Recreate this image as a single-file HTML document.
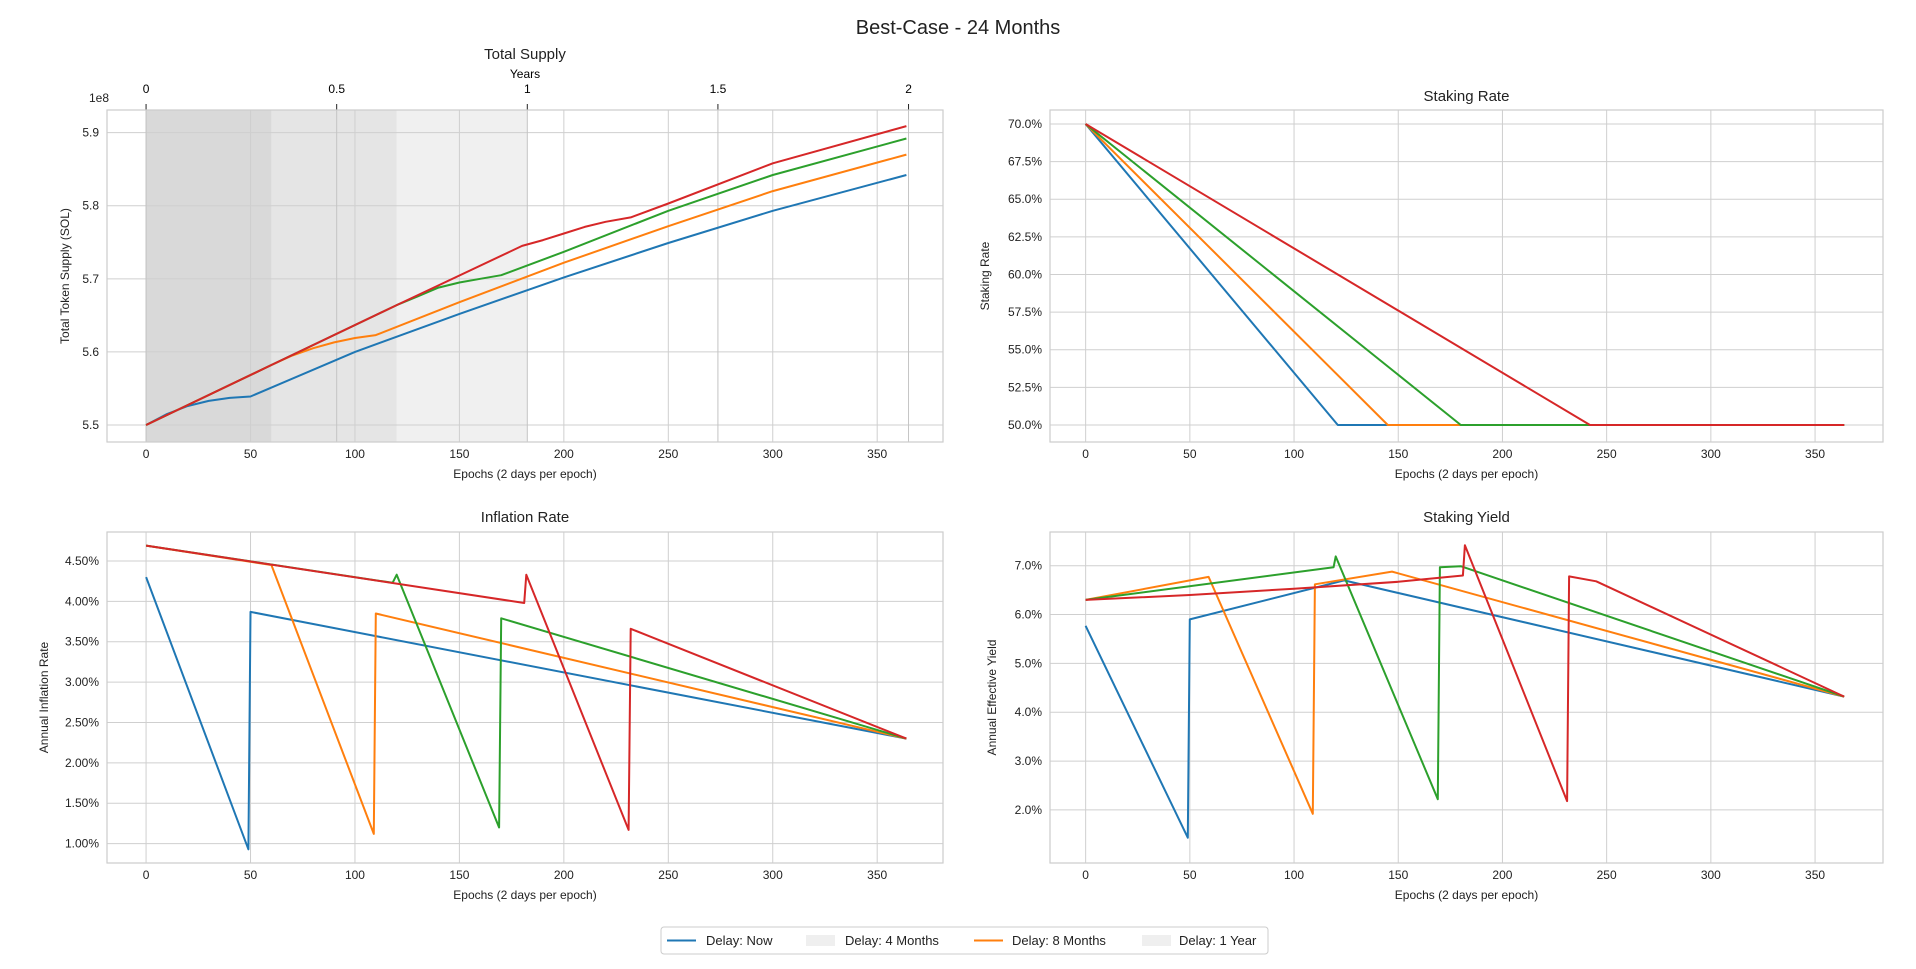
<!DOCTYPE html>
<html><head><meta charset="utf-8"><title>Best-Case - 24 Months</title>
<style>
html,body{margin:0;padding:0;background:#fff;}
svg{display:block;font-family:"Liberation Sans",Arial,sans-serif;}
</style></head>
<body>
<svg id="fig" width="1916" height="969" viewBox="0 0 1916 969" xmlns="http://www.w3.org/2000/svg">
<text x="958" y="34" font-size="20" text-anchor="middle" fill="#222">Best-Case - 24 Months</text>
<g id="legend">
<rect x="661" y="927" width="607" height="27" rx="3" fill="#fff" stroke="#ccc" stroke-width="1"/>
<g><line x1="667" y1="940.5" x2="696" y2="940.5" stroke="#1f77b4" stroke-width="2"/><text x="706" y="945" font-size="13" fill="#222">Delay: Now</text></g>
<g><rect x="806" y="935" width="29" height="11" fill="#efefef"/><text x="845" y="945" font-size="13" fill="#222">Delay: 4 Months</text></g>
<g><line x1="974" y1="940.5" x2="1003" y2="940.5" stroke="#ff7f0e" stroke-width="2"/><text x="1012" y="945" font-size="13" fill="#222">Delay: 8 Months</text></g>
<g><rect x="1142" y="935" width="29" height="11" fill="#efefef"/><text x="1179" y="945" font-size="13" fill="#222">Delay: 1 Year</text></g>
</g>
</svg>
<script>
// ---- data ----
const colors = ["#1f77b4","#ff7f0e","#2ca02c","#d62728"];
const seriesNames = ["now","8-months","4-months","1-year"];
const epochTicks = [0,50,100,150,200,250,300,350];
const yearTicks = [0,0.5,1,1.5,2];
const yearTickLabels = ["0","0.5","1","1.5","2"];
const shadeEnds = [60,120,182.5];
const shadeColors = ["#d9d9d9","#e5e5e5","#f0f0f0"];

const supplyTicks = [5.5,5.6,5.7,5.8,5.9];
const supplyX = [
 [0,10,20,30,40,50,100,150,200,250,300,364],
 [0,60,70,80,90,100,110,150,200,250,300,364],
 [0,60,120,130,140,150,160,170,200,250,300,364],
 [0,60,120,180,190,200,210,220,232,250,300,364]];
const supplyY = [
 [5.500,5.515,5.526,5.533,5.537,5.539,5.600,5.652,5.702,5.749,5.793,5.842],
 [5.500,5.582,5.595,5.605,5.613,5.619,5.623,5.668,5.722,5.772,5.820,5.870],
 [5.500,5.582,5.664,5.676,5.688,5.695,5.700,5.705,5.737,5.793,5.842,5.892],
 [5.500,5.582,5.664,5.745,5.753,5.762,5.771,5.778,5.784,5.803,5.858,5.909]];

const stakeTicks = [50,52.5,55,57.5,60,62.5,65,67.5,70];
const stakeX = [[0,121,364],[0,145,364],[0,180,364],[0,242,364]];
const stakeY = [[70,50,50],[70,50,50],[70,50,50],[70,50,50]];

const inflTicks = [1.0,1.5,2.0,2.5,3.0,3.5,4.0,4.5];
const inflX = [
 [0,49,50,364],
 [0,60,109,110,364],
 [0,118,120,169,170,364],
 [0,181,182,231,232,364]];
const inflY = [
 [4.30,0.93,3.87,2.30],
 [4.69,4.45,1.12,3.85,2.30],
 [4.69,4.23,4.33,1.20,3.79,2.30],
 [4.69,3.98,4.33,1.17,3.66,2.30]];

const yieldTicks = [2,3,4,5,6,7];
const yieldX = [
 [0,49,50,124,364],
 [0,59,109,110,147,364],
 [0,119,120,169,170,180,364],
 [0,50,100,150,181,182,231,232,245,364]];
const yieldY = [
 [5.77,1.43,5.90,6.70,4.32],
 [6.30,6.77,1.92,6.62,6.88,4.32],
 [6.30,6.97,7.19,2.22,6.97,6.99,4.32],
 [6.30,6.40,6.53,6.67,6.80,7.42,2.18,6.78,6.68,4.32]];

// ---- drawing ----
const NS="http://www.w3.org/2000/svg";
const fig=document.getElementById('fig');
function mk(tag,attrs,parent){const e=document.createElementNS(NS,tag);for(const k in attrs)e.setAttribute(k,attrs[k]);(parent||fig).appendChild(e);return e;}
function txt(s,attrs,parent){const e=mk('text',attrs,parent);e.textContent=s;return e;}

function panel(cfg){
 const g=mk('g',{});
 
 
 const L=cfg.l,R=cfg.r,T=cfg.t,B=cfg.b;
 const xm=v=>L+(v-cfg.x0)/(cfg.x1-cfg.x0)*(R-L);
 const ym=v=>B-(v-cfg.y0)/(cfg.y1-cfg.y0)*(B-T);
 if(cfg.shade){
  for(let i=shadeEnds.length-1;i>=0;i--){
   const start=i===0?0:shadeEnds[i-1];
   const r=mk('rect',{x:xm(start),y:T,width:xm(shadeEnds[i])-xm(start),height:B-T,fill:shadeColors[i]},g);
   
   
  }
 }
 epochTicks.forEach(v=>{
  mk('line',{x1:xm(v),x2:xm(v),y1:T,y2:B,stroke:'#cfcfcf','stroke-width':1},g);
  const t=txt(String(v),{x:xm(v),y:cfg.b+16,'font-size':12,'text-anchor':'middle',fill:'#222'},g);
  
  
 });
 cfg.yticks.forEach(v=>{
  mk('line',{x1:L,x2:R,y1:ym(v),y2:ym(v),stroke:'#cfcfcf','stroke-width':1},g);
  const t=txt(cfg.fmt(v),{x:L-8,y:ym(v)+4,'font-size':12,'text-anchor':'end',fill:'#222'},g);
  
  
 });
 if(cfg.years){
  yearTicks.forEach((v,i)=>{
   const x=xm(v*182.5);
   mk('line',{x1:x,x2:x,y1:T,y2:B,stroke:'#c4c4c4','stroke-width':1},g);
   mk('line',{x1:x,x2:x,y1:T-6,y2:T,stroke:'#222','stroke-width':1},g);
   const t=txt(yearTickLabels[i],{x:x,y:T-17,'font-size':12,'text-anchor':'middle',fill:'#000'},g);
   
   
  });
  const yl=txt('Years',{x:(L+R)/2,y:T-32,'font-size':12,'text-anchor':'middle',fill:'#000'},g);
  
  
  const oe=txt('1e8',{x:L-18,y:T-8,'font-size':12,fill:'#222'},g);
  
  
 }
 mk('rect',{x:L,y:T,width:R-L,height:B-T,fill:'none',stroke:'#cccccc','stroke-width':1.2},g);
 cfg.xs.forEach((xs,i)=>{
  const pts=xs.map((x,j)=>xm(x).toFixed(1)+','+ym(cfg.ys[i][j]).toFixed(1)).join(' ');
  const p=mk('polyline',{points:pts,fill:'none',stroke:colors[i],'stroke-width':2,'stroke-linejoin':'round'},g);
  
  
 });
 const tt=txt(cfg.title,{x:(L+R)/2,y:cfg.titleY,'font-size':15,'text-anchor':'middle',fill:'#222'},g);
 
 
 const xl=txt('Epochs (2 days per epoch)',{x:(L+R)/2,y:B+36,'font-size':12,'text-anchor':'middle',fill:'#222'},g);
 
 
 const cy=(T+B)/2;
 const yt=txt(cfg.ylabel,{x:cfg.ylx,y:cy,'font-size':12,'text-anchor':'middle',fill:'#222',transform:`rotate(-90 ${cfg.ylx} ${cy})`},g);
 
 
}

panel({name:'total-supply-panel',l:107,r:943,t:110,b:442,x0:-18.7,x1:381.5,y0:5.4767,y1:5.931,
 yticks:supplyTicks,fmt:v=>v.toFixed(1),xs:supplyX,ys:supplyY,title:'Total Supply',titleY:59,
 ylabel:'Total Token Supply (SOL)',ylx:69,shade:true,years:true});
panel({name:'staking-rate-panel',l:1050,r:1883,t:110,b:442,x0:-17.1,x1:382.6,y0:48.87,y1:70.93,
 yticks:stakeTicks,fmt:v=>v.toFixed(1)+'%',xs:stakeX,ys:stakeY,title:'Staking Rate',titleY:101,
 ylabel:'Staking Rate',ylx:989});
panel({name:'inflation-rate-panel',l:107,r:943,t:532,b:863,x0:-18.7,x1:381.5,y0:0.76,y1:4.859,
 yticks:inflTicks,fmt:v=>v.toFixed(2)+'%',xs:inflX,ys:inflY,title:'Inflation Rate',titleY:522,
 ylabel:'Annual Inflation Rate',ylx:48});
panel({name:'staking-yield-panel',l:1050,r:1883,t:532,b:863,x0:-17.1,x1:382.6,y0:0.913,y1:7.69,
 yticks:yieldTicks,fmt:v=>v.toFixed(1)+'%',xs:yieldX,ys:yieldY,title:'Staking Yield',titleY:522,
 ylabel:'Annual Effective Yield',ylx:996});
fig.appendChild(document.getElementById('legend'));
</script>
</body></html>
